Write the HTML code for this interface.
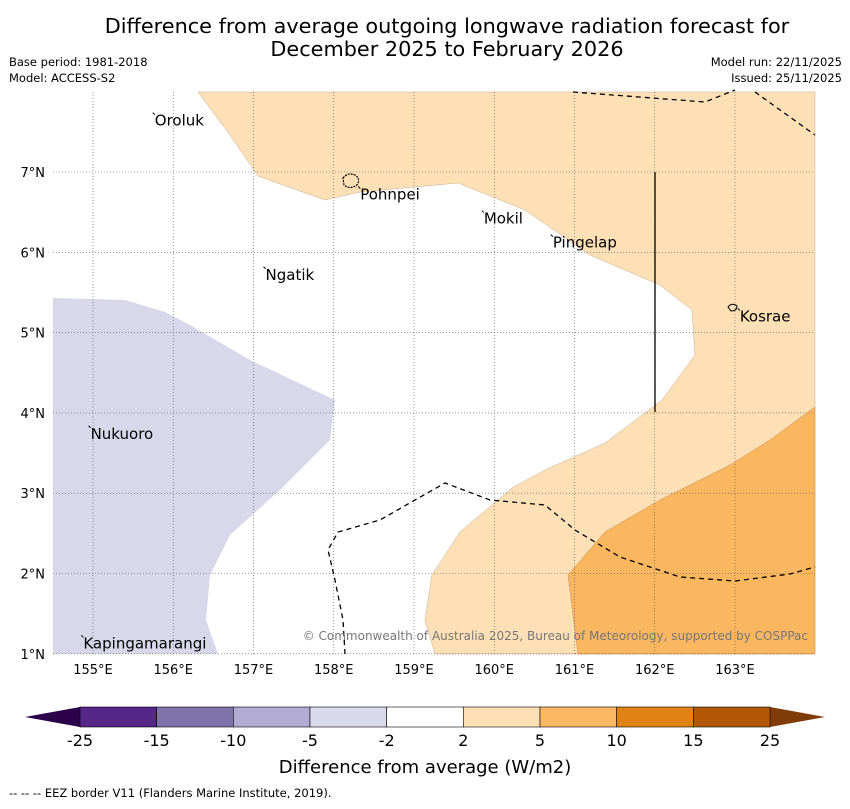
<!DOCTYPE html>
<html><head><meta charset="utf-8"><style>
body{margin:0;background:#fff;font-family:"Liberation Sans","DejaVu Sans",sans-serif}
svg text{font-family:"DejaVu Sans","Liberation Sans",sans-serif}
</style></head><body>
<svg id="c" width="850" height="804" viewBox="0 0 850 804" xmlns="http://www.w3.org/2000/svg">
<text x="447" y="33" font-size="20.8" text-anchor="middle">Difference from average outgoing longwave radiation forecast for</text>
<text x="447" y="56" font-size="20.8" text-anchor="middle">December 2025 to February 2026</text>
<text x="9" y="66" font-size="11.5">Base period: 1981-2018</text>
<text x="9" y="82" font-size="11.5">Model: ACCESS-S2</text>
<text x="842" y="66" font-size="11.5" text-anchor="end">Model run: 22/11/2025</text>
<text x="842" y="82" font-size="11.5" text-anchor="end">Issued: 25/11/2025</text>
<g id="map"></g>
<g id="cb"></g>
<text x="425" y="773" font-size="18" text-anchor="middle">Difference from average (W/m2)</text>
<text x="9" y="797" font-size="11.5">--  --  -- EEZ border V11 (Flanders Marine Institute, 2019).</text>
</svg>
<script>
const lonTicks=[155,156,157,158,159,160,161,162,163];
const latTicks=[1,2,3,4,5,6,7];
const places=["Oroluk","Pohnpei","Mokil","Pingelap","Ngatik","Kosrae","Nukuoro","Kapingamarangi"];
const placeLon=[155.77,158.33,159.87,160.73,157.15,163.06,154.97,154.88];
const placeLat=[7.64,6.72,6.42,6.12,5.72,5.2,3.74,1.13];
const cbLevels=[-25,-15,-10,-5,-2,2,5,10,15,25];
const cbColors=["#542788","#8073ac","#b2abd2","#d8daeb","#ffffff","#fee0b6","#fdb863","#e08214","#b35806"];
const X0=53,X1=815,Y0=92,Y1=654;
const x=lon=>93+(lon-155)*80.25;
const y=lat=>172-(lat-7)*80.3;
const NS="http://www.w3.org/2000/svg";
function mk(t,a,p){const e=document.createElementNS(NS,t);for(const k in a)e.setAttribute(k,a[k]);p.appendChild(e);return e;}
const map=document.getElementById('map');
const P=pts=>pts.map(p=>p.join(',')).join(' ');
mk('rect',{x:X0,y:Y0,width:X1-X0,height:Y1-Y0,fill:'#fff'},map);
let e=mk('polygon',{points:P([[198,92],[230,135],[258,176],[325,200],[360,192],[458,183],[525,210],[590,255],[660,285],[692,310],[695,355],[662,400],[605,443],[545,470],[512,488],[460,532],[432,575],[425,620],[435,654],[815,654],[815,92]]),fill:'#fde0b6',stroke:'#c9a98a','stroke-width':0.5},map);

e=mk('polygon',{points:P([[815,407],[770,440],[730,465],[660,500],[605,532],[568,575],[578,654],[815,654]]),fill:'#fbb660',stroke:'#c98a4a','stroke-width':0.5},map);

e=mk('polygon',{points:P([[53,298],[125,300],[165,312],[190,325],[250,360],[335,400],[330,440],[320,450],[280,490],[230,535],[210,575],[206,620],[218,654],[53,654]]),fill:'#d8d8ea'},map);

lonTicks.forEach(v=>{const l=mk('line',{x1:x(v),x2:x(v),y1:Y0,y2:Y1,stroke:'#555','stroke-width':0.6,'stroke-dasharray':'1,2'},map);

const t=mk('text',{x:x(v),y:674,'font-size':13,'text-anchor':'middle'},map);t.textContent=v+'°E';
});
latTicks.forEach(v=>{const l=mk('line',{x1:X0,x2:X1,y1:y(v),y2:y(v),stroke:'#555','stroke-width':0.6,'stroke-dasharray':'1,2'},map);

const t=mk('text',{x:45,y:y(v)+5,'font-size':13,'text-anchor':'end'},map);t.textContent=v+'°N';
});
[[[573,92],[705,102],[735,90]],[[755,92],[815,135]],[[345,654],[343,620],[335,580],[328,550],[338,532],[380,520],[415,500],[445,483],[490,500],[545,505],[575,530],[620,557],[680,577],[735,581],[790,574],[815,567]]].forEach(pts=>{
const l=mk('polyline',{points:P(pts),fill:'none',stroke:'#000','stroke-width':1.3,'stroke-dasharray':'5,4'},map);
});
e=mk('line',{x1:655,x2:655,y1:172,y2:412,stroke:'#000','stroke-width':1.3},map);

e=mk('path',{d:'M343,178 q5,-6 12,-3 q6,4 2,10 q-7,5 -13,0 z',fill:'none',stroke:'#000','stroke-width':1.2,'stroke-dasharray':'2,1'},map);

e=mk('path',{d:'M728,307 q4,-5 9,-1 q0,5 -6,5 z',fill:'none',stroke:'#000','stroke-width':1},map);

places.forEach((n,i)=>{const t=mk('text',{x:x(placeLon[i]),y:y(placeLat[i])+5,'font-size':15},map);t.textContent=n;

const d=mk('line',{x1:x(placeLon[i])-2,y1:y(placeLat[i])-8,x2:x(placeLon[i]),y2:y(placeLat[i])-6,stroke:'#000','stroke-width':1},map);
});
e=mk('text',{x:808,y:640,'font-size':12,'text-anchor':'end',fill:'#777'},map);e.textContent='© Commonwealth of Australia 2025, Bureau of Meteorology, supported by COSPPac';

const cb=document.getElementById('cb');
const cx0=80,cw=690/cbColors.length,cy=707,ch=20;
e=mk('polygon',{points:P([[80,cy],[25,cy+ch/2],[80,cy+ch]]),fill:'#2d004b'},cb);

e=mk('polygon',{points:P([[770,cy],[825,cy+ch/2],[770,cy+ch]]),fill:'#7f3b08'},cb);

cbColors.forEach((c,i)=>{const r=mk('rect',{x:cx0+i*cw,y:cy,width:cw,height:ch,fill:c,stroke:'#000','stroke-width':0.6},cb);
});
cbLevels.forEach((v,i)=>{const t=mk('text',{x:cx0+i*cw,y:746,'font-size':16,'text-anchor':'middle'},cb);t.textContent=v;
});
</script>
</body></html>
